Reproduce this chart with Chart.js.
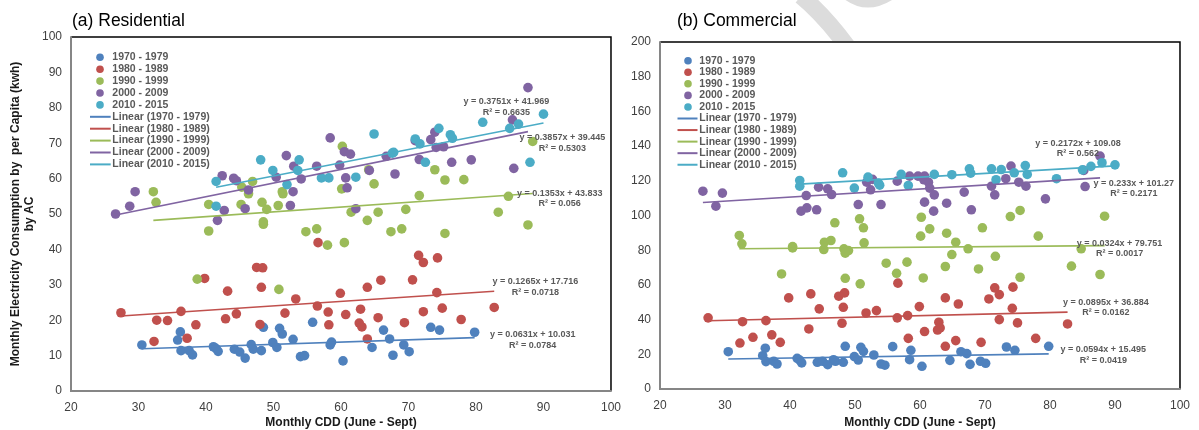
<!DOCTYPE html>
<html><head><meta charset="utf-8">
<script src="https://cdn.jsdelivr.net/npm/chart.js@4.4.0/dist/chart.umd.min.js"></script>
<style>
html,body{margin:0;padding:0;background:#fff;width:1199px;height:430px;overflow:hidden}
#cl{position:absolute;left:0;top:0}
#cr{position:absolute;left:625px;top:0}
</style></head><body>
<canvas id="cl" width="630" height="430"></canvas>
<canvas id="cr" width="574" height="430"></canvas>
<script>
const FONT = '"Liberation Sans", Arial, Helvetica, sans-serif';
const decades = ['1970 - 1979', '1980 - 1989', '1990 - 1999', '2000 - 2009', '2010 - 2015'];
const colors = ['#4F81BD', '#C0504D', '#9BBB59', '#8064A2', '#4BACC6'];

// Monthly CDD (June - Sept) per decade
const cdd1970s = [30.5, 35.8, 36.2, 36.3, 37.5, 38.0, 41.1, 41.5, 41.8, 44.2, 45.0, 45.8, 46.7, 47.0, 48.2, 48.5, 49.9, 50.5, 50.9, 51.3, 52.9, 54.0, 54.6, 55.8, 58.4, 58.6, 60.3, 64.6, 66.3, 67.2, 67.7, 69.3, 70.1, 73.3, 74.6, 79.8];
const cdd1980s = [27.4, 32.3, 32.7, 34.3, 36.3, 37.2, 38.5, 39.8, 42.9, 43.2, 44.5, 47.5, 48.4, 48.2, 48.0, 51.7, 53.3, 56.5, 56.6, 58.1, 58.2, 59.9, 60.7, 62.9, 62.7, 63.1, 63.9, 63.9, 65.5, 65.9, 69.4, 70.6, 71.5, 72.2, 72.2, 74.3, 74.2, 75.0, 77.8, 82.7];
const cdd1990s = [32.2, 32.6, 38.7, 40.4, 40.4, 45.2, 45.3, 46.3, 46.9, 48.3, 48.5, 48.5, 49.0, 50.7, 50.8, 51.3, 51.4, 54.8, 56.4, 58.0, 60.1, 60.2, 60.5, 61.5, 63.9, 64.1, 64.9, 65.5, 67.4, 69.0, 69.6, 71.6, 73.9, 75.4, 75.4, 78.2, 83.3, 84.8, 87.7, 88.4];
const cdd2000sRes = [26.6, 28.7, 29.5, 41.7, 42.4, 42.7, 44.1, 44.5, 45.8, 46.3, 50.4, 51.9, 52.5, 52.9, 53.0, 54.1, 56.4, 58.4, 59.8, 60.5, 60.7, 60.9, 61.4, 62.2, 64.2, 66.7, 68.0, 71.0, 71.6, 73.3, 73.9, 74.1, 75.2, 76.4, 79.3, 85.4, 85.6, 87.7];
const cdd2000sCom = [26.6, 28.6, 29.6, 41.7, 42.5, 42.6, 44.1, 44.4, 45.8, 46.4, 50.5, 51.8, 52.4, 52.7, 54.0, 56.5, 58.4, 59.7, 60.6, 60.7, 60.7, 61.3, 61.5, 62.1, 62.2, 64.1, 66.8, 67.9, 71.0, 71.5, 73.2, 74.0, 75.2, 76.3, 79.3, 85.2, 85.4, 87.7];
const cdd2010s = [41.5, 41.5, 48.1, 49.9, 52.0, 53.6, 53.8, 57.1, 58.2, 62.2, 64.9, 67.6, 67.8, 71.0, 71.7, 72.5, 74.5, 76.2, 76.5, 81.0, 85.0, 86.3, 88.0, 90.0];

// (a) Residential: monthly electricity consumption by AC per capita (kWh)
const res1970s = [13.0, 14.4, 16.7, 11.4, 11.4, 10.2, 12.5, 12.0, 11.2, 11.8, 11.0, 9.3, 13.1, 11.8, 11.4, 18.0, 13.7, 12.3, 17.7, 16.1, 14.6, 9.7, 10.0, 19.4, 13.0, 13.8, 8.5, 12.3, 17.2, 14.7, 10.1, 13.0, 11.1, 18.0, 17.2, 16.6];
const res1980s = [22.1, 14.0, 20.0, 19.9, 22.5, 14.9, 18.7, 31.8, 20.4, 28.2, 21.8, 34.9, 34.8, 29.3, 18.8, 22.0, 26.0, 24.0, 41.9, 22.3, 18.7, 27.6, 21.6, 23.1, 19.2, 18.1, 29.3, 14.7, 20.7, 31.3, 19.3, 31.4, 38.3, 36.3, 22.4, 37.6, 27.8, 23.4, 20.2, 23.6];
const res1990s = [56.3, 53.3, 31.6, 52.7, 45.2, 52.7, 57.6, 55.7, 59.2, 53.3, 47.1, 47.8, 51.3, 52.4, 28.7, 56.3, 55.7, 45.0, 45.8, 41.2, 57.1, 69.1, 41.9, 50.5, 48.2, 62.5, 58.5, 50.5, 45.0, 45.8, 51.3, 55.2, 62.5, 59.6, 44.5, 59.7, 50.5, 55.0, 46.9, 70.5];
const res2000s = [50.0, 52.2, 56.3, 48.2, 60.8, 51.0, 60.1, 59.4, 51.5, 56.8, 60.4, 66.5, 52.4, 56.3, 63.5, 59.9, 63.5, 71.5, 63.8, 67.6, 60.2, 57.4, 66.9, 51.5, 62.3, 66.3, 61.3, 70.7, 65.4, 71.0, 73.1, 68.8, 69.0, 64.6, 65.3, 76.6, 62.9, 85.7];
const res2010s = [59.2, 52.2, 65.3, 62.3, 58.3, 62.3, 65.3, 60.2, 60.2, 60.4, 72.6, 67.2, 67.4, 71.2, 69.8, 64.6, 74.2, 72.4, 71.4, 75.9, 74.2, 75.4, 64.6, 78.2];

// (b) Commercial
const com1970s = [21.5, 19.2, 23.5, 15.8, 16.0, 14.4, 17.7, 16.7, 15.0, 15.4, 16.0, 14.0, 16.9, 16.0, 15.4, 24.6, 18.7, 16.7, 24.0, 21.7, 19.6, 14.4, 13.7, 24.4, 16.9, 22.3, 13.1, 16.5, 21.5, 20.4, 14.2, 16.0, 14.8, 24.2, 22.3, 24.6];
const com1980s = [41.0, 26.5, 38.8, 29.8, 39.4, 31.2, 26.9, 52.5, 34.6, 54.8, 46.2, 53.5, 55.4, 47.1, 37.9, 43.8, 45.2, 41.0, 61.0, 42.3, 29.2, 47.5, 33.1, 38.5, 34.0, 35.2, 52.5, 24.6, 27.9, 49.0, 26.9, 51.9, 58.3, 54.4, 40.0, 58.7, 46.5, 38.1, 29.2, 37.5];
const com1990s = [88.5, 83.7, 66.3, 82.1, 81.3, 80.4, 84.6, 85.6, 95.8, 80.8, 63.8, 78.3, 79.8, 98.1, 60.6, 92.9, 84.2, 72.5, 66.7, 73.1, 88.1, 99.0, 64.0, 92.3, 70.6, 89.8, 77.5, 84.6, 80.8, 69.2, 92.9, 76.5, 99.4, 102.9, 64.4, 88.1, 70.8, 80.8, 66.0, 99.6];
const com2000s = [114.0, 105.4, 112.9, 102.5, 111.5, 104.4, 103.3, 116.3, 115.4, 112.1, 106.3, 119.2, 114.8, 120.8, 106.3, 119.8, 122.7, 122.7, 120.6, 122.7, 107.7, 119.2, 115.8, 102.5, 111.9, 107.1, 113.5, 103.3, 116.9, 111.9, 121.2, 128.5, 119.2, 116.9, 109.6, 126.0, 116.7, 134.2];
const com2010s = [120.2, 116.9, 124.6, 115.8, 122.1, 118.7, 117.5, 123.7, 117.3, 123.7, 123.5, 126.9, 124.4, 126.9, 120.6, 126.5, 124.6, 128.8, 123.7, 121.2, 126.3, 128.3, 130.4, 129.2];

// Linear trendlines as printed in the figure
const resSlopes = [0.0631, 0.1265, 0.1353, 0.3857, 0.3751];
const resIntercepts = [10.031, 17.716, 43.833, 39.445, 41.969];
const resR2 = ['0.0784', '0.0718', '0.056', '0.5303', '0.6635'];
const comSlopes = [0.0594, 0.0895, 0.0324, 0.233, 0.2172];
const comIntercepts = [15.495, 36.884, 79.751, 101.27, 109.08];
const comR2 = ['0.0419', '0.0162', '0.0017', '0.2171', '0.562'];

// Equation label anchors (data coordinates)
const resEqAt = [[88.4, 15.9], [88.8, 30.8], [92.4, 55.8], [92.8, 71.5], [84.5, 81.7]];
const comEqAt = [[88.2, 22.5], [88.6, 50.0], [90.7, 84.0], [92.9, 118.6], [84.3, 141.6]];

function buildDatasets(cdds, ys, slopes, intercepts) {
  const ds = [];
  decades.forEach((d, i) => {
    ds.push({
      type: 'scatter', label: d,
      data: cdds[i].map((x, j) => ({ x: x, y: ys[i][j] })),
      backgroundColor: colors[i], borderWidth: 0,
      pointRadius: 4.8, pointHoverRadius: 4.8, order: 20 - i
    });
  });
  decades.forEach((d, i) => {
    const x0 = Math.min(...cdds[i]), x1 = Math.max(...cdds[i]);
    ds.push({
      type: 'line', label: 'Linear (' + d + ')',
      data: [{ x: x0, y: slopes[i] * x0 + intercepts[i] }, { x: x1, y: slopes[i] * x1 + intercepts[i] }],
      borderColor: colors[i], borderWidth: 1.6, pointRadius: 0, fill: false, order: 5 - i
    });
  });
  return ds;
}

const framePlugin = {
  id: 'frame',
  beforeDatasetsDraw(chart, args, o) {
    const c = chart.ctx, a = chart.chartArea;
    c.save();
    if (o.mark) {
      // faint background watermark, hidden by the white plot area
      c.beginPath(); c.rect(0, 0, chart.width, a.top - 1); c.clip();
      c.strokeStyle = '#dcdcdc'; c.lineCap = 'butt';
      c.lineWidth = 17;
      c.beginPath(); c.moveTo(o.mark[0], -4); c.quadraticCurveTo(o.mark[0] + 22, 14, o.mark[0] + 46, a.top + 4); c.stroke();
      c.lineWidth = 9;
      c.beginPath(); c.moveTo(o.mark[0] + 44, -6); c.quadraticCurveTo(o.mark[0] + 66, 12, o.mark[0] + 92, -6); c.stroke();
    }
    c.restore();
    c.save();
    c.strokeStyle = '#000'; c.lineWidth = 1.5;
    c.beginPath();
    c.moveTo(a.left, a.top); c.lineTo(a.right, a.top); c.lineTo(a.right, a.bottom);
    c.stroke();
    c.strokeStyle = '#868686'; c.lineWidth = 2;
    c.beginPath();
    c.moveTo(a.left, a.top - 0.75); c.lineTo(a.left, a.bottom); c.lineTo(a.right + 0.75, a.bottom);
    c.stroke();
    c.restore();
  }
};

const extrasPlugin = {
  id: 'extras',
  afterDraw(chart, args, o) {
    const c = chart.ctx, a = chart.chartArea;
    const xs = chart.scales.x, ys = chart.scales.y;
    c.save();
    // panel title
    c.fillStyle = '#000';
    c.font = '17.5px ' + FONT;
    c.textBaseline = 'alphabetic'; c.textAlign = 'left';
    c.fillText(o.title, o.titleX, 26);
    // legend
    const L = o.leg;
    c.font = 'bold 10.5px ' + FONT;
    c.textBaseline = 'middle';
    decades.forEach((d, i) => {
      const y = a.top + L.top + i * L.step;
      c.fillStyle = colors[i];
      c.beginPath(); c.arc(a.left + L.mark, y, 3.8, 0, Math.PI * 2); c.fill();
      c.fillStyle = '#595959';
      c.fillText(d, a.left + L.text, y);
    });
    decades.forEach((d, i) => {
      const y = a.top + L.top + (i + 5) * L.step;
      c.strokeStyle = colors[i]; c.lineWidth = 2;
      c.beginPath(); c.moveTo(a.left + L.line0, y); c.lineTo(a.left + L.line1, y); c.stroke();
      c.fillStyle = '#595959';
      c.fillText('Linear (' + d + ')', a.left + L.text, y);
    });
    // trendline equations
    c.font = 'bold 9px ' + FONT;
    c.textAlign = 'center';
    c.fillStyle = '#595959';
    o.eqAt.forEach((p, i) => {
      const px = xs.getPixelForValue(p[0]), py = ys.getPixelForValue(p[1]);
      c.fillText('y = ' + o.slopes[i] + 'x + ' + o.intercepts[i], px, py);
      c.fillText('R\u00B2 = ' + o.r2[i], px, py + 10.5);
    });
    c.restore();
  }
};

function makeChart(id, cfg) {
  return new Chart(document.getElementById(id), {
    data: { datasets: buildDatasets(cfg.cdds, cfg.ys, cfg.slopes, cfg.intercepts) },
    plugins: [framePlugin, extrasPlugin],
    options: {
      responsive: false, animation: false, devicePixelRatio: 1,
      layout: { padding: { top: cfg.top, right: cfg.right, left: 0, bottom: 0 } },
      plugins: {
        legend: { display: false }, tooltip: { enabled: false },
        frame: { mark: cfg.mark || null },
        extras: { title: cfg.title, titleX: cfg.titleX, eqAt: cfg.eqAt, slopes: cfg.slopes, intercepts: cfg.intercepts, r2: cfg.r2, leg: cfg.leg }
      },
      scales: {
        x: {
          type: 'linear', min: 20, max: 100,
          ticks: { stepSize: 10, color: '#404040', font: { size: 12, family: FONT }, padding: 9, maxRotation: 0 },
          grid: { display: false, drawTicks: false }, border: { display: false },
          title: { display: true, text: 'Monthly CDD (June - Sept)', color: '#1a1a1a', font: { size: 12, weight: 'bold', family: FONT }, padding: { top: 0, bottom: 0 } },
          afterFit(s) { s.height = cfg.xh; }
        },
        y: {
          type: 'linear', min: 0, max: cfg.ymax,
          ticks: { stepSize: cfg.ystep, color: '#404040', font: { size: 12, family: FONT }, padding: 9 },
          grid: { display: false, drawTicks: false }, border: { display: false },
          title: { display: cfg.ytitle != null, text: cfg.ytitle || '', color: '#1a1a1a', font: { size: 12, weight: 'bold', family: FONT }, padding: { top: 8, bottom: 0 } },
          afterFit(s) { s.width = cfg.yw; }
        }
      }
    }
  });
}

makeChart('cl', {
  cdds: [cdd1970s, cdd1980s, cdd1990s, cdd2000sRes, cdd2010s],
  ys: [res1970s, res1980s, res1990s, res2000s, res2010s],
  slopes: resSlopes, intercepts: resIntercepts, r2: resR2, eqAt: resEqAt,
  title: '(a) Residential', titleX: 72,
  top: 37, right: 19, xh: 39, yw: 71, ymax: 100, ystep: 10,
  leg: { top: 20.3, step: 11.9, mark: 29, text: 41.3, line0: 19, line1: 39.7 },
  ytitle: ['Monthly Electricity Consumption by  per Capita (kwh)', 'by AC']
});
makeChart('cr', {
  cdds: [cdd1970s, cdd1980s, cdd1990s, cdd2000sCom, cdd2010s],
  ys: [com1970s, com1980s, com1990s, com2000s, com2010s],
  slopes: comSlopes, intercepts: comIntercepts, r2: comR2, eqAt: comEqAt,
  title: '(b) Commercial', titleX: 52,
  top: 42, right: 14, xh: 41, yw: 35, ymax: 200, ystep: 20,
  leg: { top: 18.7, step: 11.56, mark: 28, text: 39.3, line0: 17.5, line1: 37.5 },
  mark: [176],
  ytitle: null
});
</script>
</body></html>
